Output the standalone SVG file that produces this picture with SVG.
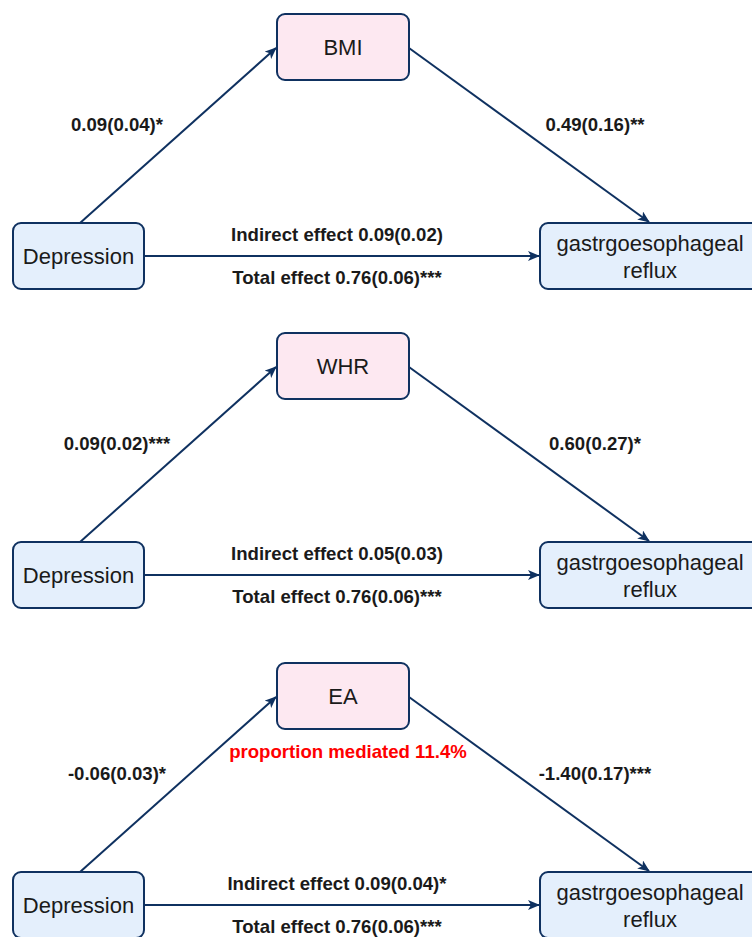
<svg xmlns="http://www.w3.org/2000/svg" width="752" height="937" viewBox="0 0 752 937">
<defs>
<style>
.node rect{stroke:#0f3160;stroke-width:2}
.med rect{fill:#fde8f1}
.dep rect,.out rect{fill:#e4effc}
.nt{font-family:"Liberation Sans",Arial,sans-serif;font-size:22px;fill:#1a1a1a;text-anchor:middle}
.lb{font-family:"Liberation Sans",Arial,sans-serif;font-size:18.6px;font-weight:bold;fill:#1a1a1a;text-anchor:middle}
.red{fill:#ff0000}
.edges line{stroke:#0f3160;stroke-width:2;marker-end:url(#ah)}
</style>
<marker id="ah" viewBox="0 0 12 10" refX="11" refY="5" markerWidth="12" markerHeight="10" markerUnits="userSpaceOnUse" orient="auto">
<path d="M0,0 L12,5 L0,10 L3,5 Z" fill="#0f3160"/>
</marker>
</defs>

<g class="edges">
<line x1="80" y1="223" x2="276" y2="48"/>
<line x1="409" y1="48" x2="649" y2="222"/>
<line x1="144" y1="256" x2="539" y2="256"/>
<line x1="80" y1="542" x2="276" y2="367"/>
<line x1="409" y1="367" x2="649" y2="541"/>
<line x1="144" y1="575" x2="539" y2="575"/>
<line x1="80" y1="872" x2="276" y2="697"/>
<line x1="409" y1="697" x2="649" y2="871"/>
<line x1="144" y1="905" x2="539" y2="905"/>
</g>

<g id="bmi" class="node med"><rect x="277" y="14" width="132" height="66" rx="8"/><text class="nt" x="343" y="55">BMI</text></g>
<g id="dep1" class="node dep"><rect x="13" y="223" width="131" height="66" rx="8"/><text class="nt" x="78.5" y="264">Depression</text></g>
<g id="gerd1" class="node out"><rect x="540" y="223" width="222" height="66" rx="8"/><text class="nt" x="650" y="251">gastrgoesophageal</text><text class="nt" x="650" y="278">reflux</text></g>

<g id="whr" class="node med"><rect x="277" y="333" width="132" height="66" rx="8"/><text class="nt" x="343" y="374">WHR</text></g>
<g id="dep2" class="node dep"><rect x="13" y="542" width="131" height="66" rx="8"/><text class="nt" x="78.5" y="583">Depression</text></g>
<g id="gerd2" class="node out"><rect x="540" y="542" width="222" height="66" rx="8"/><text class="nt" x="650" y="570">gastrgoesophageal</text><text class="nt" x="650" y="597">reflux</text></g>

<g id="ea" class="node med"><rect x="277" y="663" width="132" height="66" rx="8"/><text class="nt" x="343" y="704">EA</text></g>
<g id="dep3" class="node dep"><rect x="13" y="872" width="131" height="66" rx="8"/><text class="nt" x="78.5" y="913">Depression</text></g>
<g id="gerd3" class="node out"><rect x="540" y="872" width="222" height="66" rx="8"/><text class="nt" x="650" y="900">gastrgoesophageal</text><text class="nt" x="650" y="927">reflux</text></g>

<g id="labels">
<text class="lb" x="117" y="131">0.09(0.04)*</text>
<text class="lb" x="595" y="131">0.49(0.16)**</text>
<text class="lb" x="337" y="241">Indirect effect 0.09(0.02)</text>
<text class="lb" x="337" y="284">Total effect 0.76(0.06)***</text>

<text class="lb" x="117" y="450">0.09(0.02)***</text>
<text class="lb" x="595" y="450">0.60(0.27)*</text>
<text class="lb" x="337" y="560">Indirect effect 0.05(0.03)</text>
<text class="lb" x="337" y="603">Total effect 0.76(0.06)***</text>

<text class="lb" x="117" y="780">-0.06(0.03)*</text>
<text class="lb red" x="348" y="758">proportion mediated 11.4%</text>
<text class="lb" x="595" y="780">-1.40(0.17)***</text>
<text class="lb" x="337" y="890">Indirect effect 0.09(0.04)*</text>
<text class="lb" x="337" y="933">Total effect 0.76(0.06)***</text>
</g>
</svg>
